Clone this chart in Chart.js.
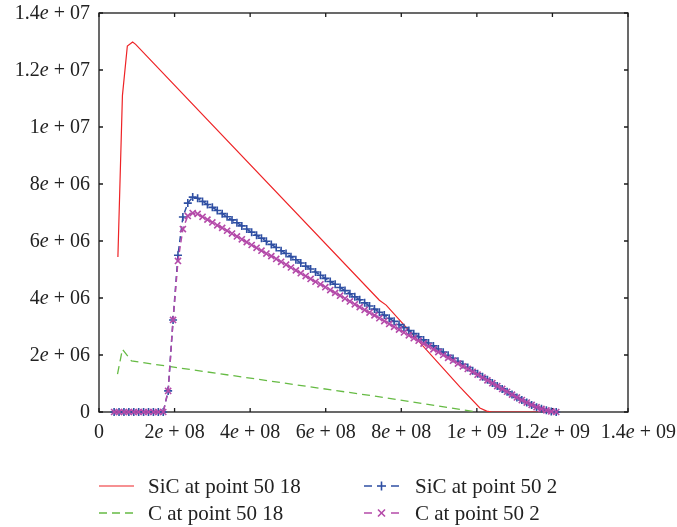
<!DOCTYPE html>
<html>
<head>
<meta charset="utf-8">
<script src="https://cdn.jsdelivr.net/npm/chart.js@4.4.1/dist/chart.umd.min.js"></script>
<style>
  body { margin: 0; background: #fff; }
  #wrap { position: relative; width: 677px; height: 527px; }
  #chart { position: absolute; left: 0; top: 0; }
  .key { position: absolute; }
  .txt { position: absolute; font: 21px "Liberation Serif", serif; color: #222; line-height: 24px; white-space: nowrap; }
</style>
</head>
<body>
<div id="wrap">
  <canvas id="chart" width="677" height="527"></canvas>

  <svg class="key" style="left:99px;top:476px" width="36" height="20"><line x1="0" y1="10" x2="35" y2="10" stroke="#ee2326" stroke-width="1.2"/></svg>
  <div class="txt" style="left:148px;top:474px">SiC at point 50 18</div>
  <svg class="key" style="left:99px;top:503px" width="36" height="20"><line x1="0" y1="10" x2="35" y2="10" stroke="#66bb44" stroke-width="1.3" stroke-dasharray="8 5"/></svg>
  <div class="txt" style="left:148px;top:501px">C at point 50 18</div>

  <svg class="key" style="left:364px;top:476px" width="36" height="20">
    <line x1="0" y1="10" x2="8" y2="10" stroke="#2f4fa3" stroke-width="1.5"/>
    <line x1="13" y1="10" x2="22" y2="10" stroke="#2f4fa3" stroke-width="1.6"/>
    <line x1="17.5" y1="5.5" x2="17.5" y2="14.5" stroke="#2f4fa3" stroke-width="1.6"/>
    <line x1="27" y1="10" x2="35" y2="10" stroke="#2f4fa3" stroke-width="1.5"/>
  </svg>
  <div class="txt" style="left:415px;top:474px">SiC at point 50 2</div>
  <svg class="key" style="left:364px;top:503px" width="36" height="20">
    <line x1="0" y1="10" x2="8" y2="10" stroke="#b44aa9" stroke-width="1.5"/>
    <line x1="14" y1="6.5" x2="21" y2="13.5" stroke="#b44aa9" stroke-width="1.6"/>
    <line x1="14" y1="13.5" x2="21" y2="6.5" stroke="#b44aa9" stroke-width="1.6"/>
    <line x1="27" y1="10" x2="35" y2="10" stroke="#b44aa9" stroke-width="1.5"/>
  </svg>
  <div class="txt" style="left:415px;top:501px">C at point 50 2</div>
</div>

<script>
// time in units of 1e7, values in units of 1e6
const TIME_UNIT = 1e7;
const VALUE_UNIT = 1e6;

// point 50 18
const sicTime18 = [5.0, 6.2, 7.5, 8.9, 9.7, 74.2, 76.0, 95.5, 100.8, 102.6, 104.0, 121.0];
const sic18     = [5.44, 11.1, 12.84, 12.98, 12.9, 3.92, 3.75, 0.88, 0.14, 0.03, 0, 0];
const cTime18   = [4.9, 6.2, 8.6, 74.3, 100.0];
const c18       = [1.33, 2.2, 1.79, 0.53, 0];

// point 50 2 (sampled output steps)
const time2 = [
  4.0, 5.3, 6.6, 7.9, 9.2, 10.5, 11.8, 13.1, 14.4, 15.7,
  17.0, 18.3, 19.6, 20.9, 22.2, 23.5, 24.8, 26.1, 27.4, 28.7,
  30.0, 31.3, 32.6, 33.9, 35.2, 36.5, 37.8, 39.1, 40.4, 41.7,
  43.0, 44.3, 45.6, 46.9, 48.2, 49.5, 50.8, 52.1, 53.4, 54.7,
  56.0, 57.3, 58.6, 59.9, 61.2, 62.5, 63.8, 65.1, 66.4, 67.7,
  69.0, 70.3, 71.6, 72.9, 74.2, 75.5, 76.8, 78.1, 79.4, 80.7,
  82.0, 83.3, 84.6, 85.9, 87.2, 88.5, 89.8, 91.1, 92.4, 93.7,
  95.0, 96.3, 97.6, 98.9, 100.2, 101.5, 102.8, 104.1, 105.4, 106.7,
  108.0, 109.3, 110.6, 111.9, 113.2, 114.5, 115.8, 117.1, 118.4, 119.7,
  121.0
];
const sic2 = [
  0, 0, 0, 0, 0, 0, 0, 0, 0, 0, 0,
  0.74, 3.23, 5.5, 6.84, 7.33, 7.54, 7.50,
  7.39, 7.28, 7.18, 7.07, 6.96, 6.85, 6.74, 6.64, 6.53, 6.42,
  6.31, 6.20, 6.10, 5.99, 5.88, 5.77, 5.66, 5.56, 5.45, 5.34,
  5.23, 5.12, 5.02, 4.91, 4.80, 4.69, 4.58, 4.48, 4.37, 4.26,
  4.15, 4.04, 3.94, 3.83, 3.72, 3.61, 3.50, 3.40, 3.29, 3.18,
  3.07, 2.96, 2.86, 2.75, 2.64, 2.53, 2.42, 2.32, 2.21, 2.10,
  1.99, 1.88, 1.78, 1.67, 1.56, 1.45, 1.34, 1.24, 1.13, 1.02,
  0.91, 0.81, 0.71, 0.61, 0.51, 0.42, 0.33, 0.25, 0.17, 0.11,
  0.06, 0.02, 0
];
const c2 = [
  0, 0, 0, 0, 0, 0, 0, 0, 0, 0, 0,
  0.74, 3.23, 5.3, 6.42, 6.88, 6.98, 6.95,
  6.85, 6.75, 6.65, 6.55, 6.46, 6.36, 6.26, 6.16, 6.06, 5.96,
  5.86, 5.76, 5.66, 5.56, 5.47, 5.37, 5.27, 5.17, 5.07, 4.97,
  4.87, 4.77, 4.67, 4.57, 4.48, 4.38, 4.28, 4.18, 4.08, 3.98,
  3.88, 3.78, 3.68, 3.58, 3.49, 3.39, 3.29, 3.19, 3.09, 2.99,
  2.89, 2.79, 2.69, 2.59, 2.50, 2.40, 2.30, 2.20, 2.10, 2.00,
  1.90, 1.80, 1.70, 1.60, 1.51, 1.41, 1.31, 1.21, 1.11, 1.01,
  0.91, 0.81, 0.71, 0.61, 0.51, 0.42, 0.33, 0.25, 0.17, 0.11,
  0.06, 0.02, 0
];

// axis ranges and tick steps
const xMax = 1.4e9, xStep = 2e8;
const yMax = 1.4e7, yStep = 2e6;

function toPoints(ts, vs) {
  return ts.map((t, i) => ({ x: t * TIME_UNIT, y: vs[i] * VALUE_UNIT }));
}

const FONT = '"Liberation Serif", serif';

// draws 1.4e + 07 style labels with an italic e
// align: 'center', 'right', or 'edge' (right edge pinned to x)
function drawSci(ctx, value, x, y, align) {
  let parts;
  if (value === 0) {
    parts = [['0', false]];
  } else {
    const exp = Math.floor(Math.log10(value) + 1e-9);
    const mant = Math.round(value / Math.pow(10, exp) * 10) / 10;
    parts = [[String(mant), false], ['e', true], [' + ' + String(exp).padStart(2, '0'), false]];
  }
  const widths = parts.map(([s, it]) => {
    ctx.font = (it ? 'italic ' : '') + '20px ' + FONT;
    return ctx.measureText(s).width;
  });
  const total = widths.reduce((a, b) => a + b, 0);
  let cx = align === 'center' ? x - total / 2 : x - total;
  parts.forEach(([s, it], i) => {
    ctx.font = (it ? 'italic ' : '') + '20px ' + FONT;
    ctx.fillText(s, cx, y);
    cx += widths[i];
  });
}

const framePlugin = {
  id: 'frame',
  beforeDatasetsDraw(chart) {
    const { ctx, chartArea: a, scales } = chart;
    ctx.save();
    ctx.strokeStyle = '#1a1a1a';
    ctx.lineWidth = 1.3;
    ctx.strokeRect(a.left, a.top, a.right - a.left, a.bottom - a.top);
    ctx.beginPath();
    scales.x.ticks.forEach(t => {
      const px = scales.x.getPixelForValue(t.value);
      ctx.moveTo(px, a.bottom); ctx.lineTo(px, a.bottom - 4);
      ctx.moveTo(px, a.top); ctx.lineTo(px, a.top + 4);
    });
    scales.y.ticks.forEach(t => {
      const py = scales.y.getPixelForValue(t.value);
      ctx.moveTo(a.left, py); ctx.lineTo(a.left + 4, py);
      ctx.moveTo(a.right, py); ctx.lineTo(a.right - 4, py);
    });
    ctx.stroke();
    ctx.restore();
  },
  afterDraw(chart) {
    const { ctx, chartArea: a, scales } = chart;
    ctx.save();
    ctx.fillStyle = '#222';
    ctx.textBaseline = 'middle';
    const xt = scales.x.ticks;
    xt.forEach((t, i) => {
      if (i === xt.length - 1) {
        // last label would run off the canvas, so pin it to the right edge
        drawSci(ctx, t.value, chart.width - 1, a.bottom + 21, 'edge');
      } else {
        drawSci(ctx, t.value, scales.x.getPixelForValue(t.value), a.bottom + 21, 'center');
      }
    });
    scales.y.ticks.forEach(t => {
      drawSci(ctx, t.value, a.left - 9, scales.y.getPixelForValue(t.value) + 1, 'right');
    });
    ctx.restore();
  }
};

new Chart(document.getElementById('chart'), {
  type: 'line',
  data: {
    datasets: [
      {
        label: 'SiC at point 50 18',
        data: toPoints(sicTime18, sic18),
        borderColor: '#ee2326',
        borderWidth: 1.2,
        pointRadius: 0,
        order: 4
      },
      {
        label: 'C at point 50 18',
        data: toPoints(cTime18, c18),
        borderColor: '#66bb44',
        borderWidth: 1.3,
        borderDash: [8, 5],
        pointRadius: 0,
        order: 3
      },
      {
        label: 'SiC at point 50 2',
        data: toPoints(time2, sic2),
        borderColor: '#2f4fa3',
        borderWidth: 1.5,
        borderDash: [6, 4],
        pointStyle: 'cross',
        pointRadius: 4,
        pointBorderWidth: 1.6,
        pointBorderColor: '#2f4fa3',
        clip: 6,
        order: 2
      },
      {
        label: 'C at point 50 2',
        data: toPoints(time2, c2),
        borderColor: '#b44aa9',
        borderWidth: 1.5,
        borderDash: [6, 4],
        pointStyle: 'crossRot',
        pointRadius: 4.3,
        pointBorderWidth: 1.6,
        pointBorderColor: '#b44aa9',
        clip: 6,
        order: 1
      }
    ]
  },
  options: {
    responsive: false,
    animation: false,
    devicePixelRatio: 1,
    layout: { padding: { top: 13, right: 49, bottom: 0, left: 0 } },
    plugins: {
      legend: { display: false },
      tooltip: { enabled: false }
    },
    elements: { line: { tension: 0 } },
    scales: {
      x: {
        type: 'linear',
        min: 0, max: xMax,
        ticks: { stepSize: xStep, display: false },
        grid: { display: false, drawTicks: false },
        border: { display: false },
        afterFit: s => { s.height = 115; }
      },
      y: {
        type: 'linear',
        min: 0, max: yMax,
        ticks: { stepSize: yStep, display: false },
        grid: { display: false, drawTicks: false },
        border: { display: false },
        afterFit: s => { s.width = 99; }
      }
    }
  },
  plugins: [framePlugin]
});
</script>
</body>
</html>
